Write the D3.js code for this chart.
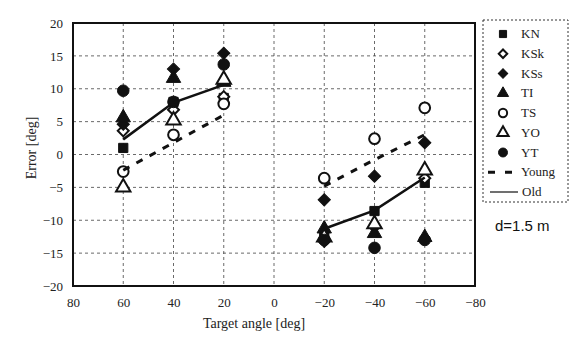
<!DOCTYPE html>
<html lang="en">
<head>
<meta charset="utf-8">
<script src="https://cdn.jsdelivr.net/npm/d3@7"></script>
<style>
  body { margin: 0; background: #fff; }
  .grid line { stroke: #444; stroke-dasharray: 3,3; stroke-width: 0.8; }
  .axis-label { font-family: "Liberation Serif", "DejaVu Serif", serif; font-size: 14px; fill: #222; }
  .legend text { font-family: "Liberation Serif", "DejaVu Serif", serif; font-size: 13px; fill: #222; }
</style>
</head>
<body>
<svg width="571" height="337"></svg>
<script>
// target angles (deg)
const angles = [60, 40, 20, -20, -40, -60];

// error per subject (deg)
const KN  = [1.0, 8.0, 8.6, -12.2, -8.6, -4.3];
const KSk = [3.6, 6.8, 8.8, -13.2, -11.0, -3.6];
const KSs = [4.6, 13.0, 15.4, -6.9, -3.3, 1.8];
const TI  = [5.6, 11.6, 11.0, -11.3, -12.0, -12.6];
const TS  = [-2.6, 3.0, 7.7, -3.6, 2.4, 7.1];
const YO  = [-5.0, 5.2, 11.4, -12.6, -10.6, -2.4];
const YT  = [9.7, 8.0, 13.7, -13.0, -14.2, -13.0];

// group means
const Young = [-2.4, 1.8, 6.0, -4.8, -0.8, 3.0];
const Old   = [2.3, 7.9, 10.6, -11.3, -8.5, -3.5];

const xTicks = [80, 60, 40, 20, 0, -20, -40, -60, -80];
const yTicks = [20, 15, 10, 5, 0, -5, -10, -15, -20];

// diamonds are drawn as squares turned 45 degrees
const subjects = [
  { name: 'KN',  values: KN,  shape: d3.symbolSquare,   size: 85,  open: false, rot: 0 },
  { name: 'KSk', values: KSk, shape: d3.symbolSquare,   size: 60,  open: true,  rot: 45 },
  { name: 'KSs', values: KSs, shape: d3.symbolSquare,   size: 75,  open: false, rot: 45 },
  { name: 'TI',  values: TI,  shape: d3.symbolTriangle, size: 90,  open: false, rot: 0 },
  { name: 'TS',  values: TS,  shape: d3.symbolCircle,   size: 90,  open: true,  rot: 0 },
  { name: 'YO',  values: YO,  shape: d3.symbolTriangle, size: 90,  open: true,  rot: 0 },
  { name: 'YT',  values: YT,  shape: d3.symbolCircle,   size: 105, open: false, rot: 0 }
];

const svg = d3.select('svg');
const plotL = 73, plotR = 475, plotT = 23, plotB = 286;

const x = d3.scaleLinear().domain([80, -80]).range([plotL, plotR]);
const y = d3.scaleLinear().domain([-20, 20]).range([plotB, plotT]);

// grid
const grid = svg.append('g').attr('class', 'grid');
grid.selectAll('line.v').data(xTicks.slice(1, -1)).enter().append('line')
  .attr('x1', d => x(d)).attr('x2', d => x(d))
  .attr('y1', plotT).attr('y2', plotB);
grid.selectAll('line.h').data(yTicks.slice(1, -1)).enter().append('line')
  .attr('x1', plotL).attr('x2', plotR)
  .attr('y1', d => y(d)).attr('y2', d => y(d));

// axes
const serif = '"Liberation Serif", "DejaVu Serif", serif';
const xAxis = d3.axisBottom(x).tickValues(xTicks).tickSize(0).tickPadding(12);
const yAxis = d3.axisLeft(y).tickValues(yTicks).tickSize(0).tickPadding(10);
svg.append('g').attr('transform', `translate(0,${plotB})`).call(xAxis)
  .attr('font-family', serif).attr('font-size', 13)
  .select('.domain').remove();
svg.append('g').attr('transform', `translate(${plotL},0)`).call(yAxis)
  .attr('font-family', serif).attr('font-size', 13)
  .select('.domain').remove();
svg.selectAll('.tick text').attr('fill', '#222');

// frame
svg.append('rect')
  .attr('x', plotL).attr('y', plotT)
  .attr('width', plotR - plotL).attr('height', plotB - plotT)
  .attr('fill', 'none').attr('stroke', '#111').attr('stroke-width', 2);

// markers
subjects.forEach(s => {
  svg.append('g').selectAll('path').data(s.values).enter().append('path')
    .attr('transform', (d, i) => `translate(${x(angles[i])},${y(d)}) rotate(${s.rot})`)
    .attr('d', d3.symbol().type(s.shape).size(s.size))
    .attr('fill', s.open ? '#fff' : '#111')
    .attr('stroke', '#111')
    .attr('stroke-width', s.open ? 2 : 1);
});

// mean lines, one segment per side
const line = d3.line().x(d => x(d[0])).y(d => y(d[1]));
const pairs = vals => angles.map((a, i) => [a, vals[i]]);
[pairs(Young).slice(0, 3), pairs(Young).slice(3)].forEach(seg => {
  svg.append('path').attr('d', line(seg))
    .attr('fill', 'none').attr('stroke', '#111')
    .attr('stroke-width', 3).attr('stroke-dasharray', '7,8');
});
[pairs(Old).slice(0, 3), pairs(Old).slice(3)].forEach(seg => {
  svg.append('path').attr('d', line(seg))
    .attr('fill', 'none').attr('stroke', '#111').attr('stroke-width', 2.5);
});

// axis labels
svg.append('text').attr('class', 'axis-label')
  .attr('x', 254).attr('y', 328).attr('text-anchor', 'middle')
  .text('Target angle [deg]');
svg.append('text').attr('class', 'axis-label')
  .attr('transform', 'translate(36,148) rotate(-90)')
  .attr('text-anchor', 'middle')
  .text('Error [deg]');

// legend
const legend = svg.append('g').attr('class', 'legend');
legend.append('rect')
  .attr('x', 483).attr('y', 20).attr('width', 85).attr('height', 182)
  .attr('fill', 'none').attr('stroke', '#333').attr('stroke-width', 1)
  .attr('stroke-dasharray', '2,2');
const step = 19.75, ly0 = 34;
subjects.forEach((s, i) => {
  const yy = ly0 + i * step;
  legend.append('path')
    .attr('transform', `translate(503,${yy}) rotate(${s.rot})`)
    .attr('d', d3.symbol().type(s.shape).size(s.size * 0.6))
    .attr('fill', s.open ? '#fff' : '#111')
    .attr('stroke', '#111').attr('stroke-width', s.open ? 2 : 1);
  legend.append('text').attr('x', 521).attr('y', yy + 4).text(s.name);
});
const yYoung = ly0 + 7 * step, yOld = ly0 + 8 * step;
legend.append('line').attr('x1', 488).attr('x2', 514).attr('y1', yYoung).attr('y2', yYoung)
  .attr('stroke', '#111').attr('stroke-width', 3).attr('stroke-dasharray', '7,10');
legend.append('text').attr('x', 521).attr('y', yYoung + 4).text('Young');
legend.append('line').attr('x1', 490).attr('x2', 518).attr('y1', yOld).attr('y2', yOld)
  .attr('stroke', '#111').attr('stroke-width', 1.2);
legend.append('text').attr('x', 522).attr('y', yOld + 4).text('Old');

svg.append('text')
  .attr('x', 495).attr('y', 231)
  .style('font-family', '"Liberation Sans", Arial, sans-serif')
  .style('font-size', '15px').style('fill', '#111')
  .text('d=1.5 m');
</script>
</body>
</html>
